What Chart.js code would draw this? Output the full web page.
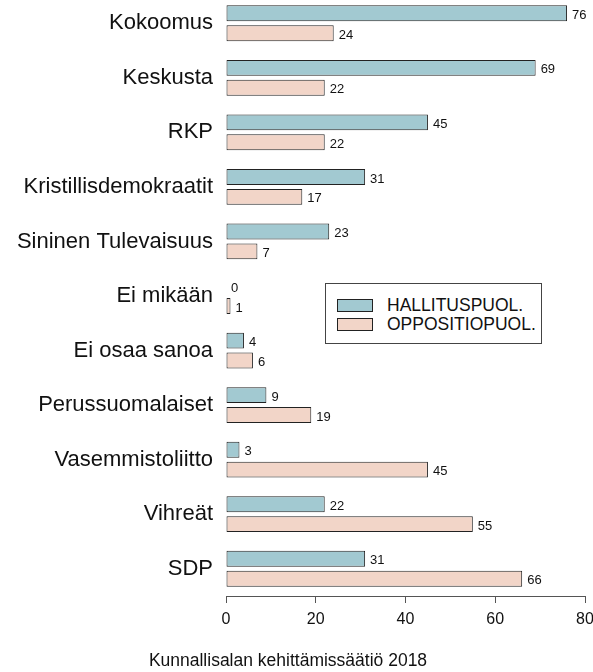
<!DOCTYPE html>
<html>
<head>
<meta charset="utf-8">
<script src="https://cdn.jsdelivr.net/npm/chart.js@4"></script>
<style>
  html, body { margin: 0; padding: 0; background: #fff; }
  body { width: 593px; height: 672px; position: relative; overflow: hidden; font-family: "Liberation Sans", Arial, sans-serif; }
  #wrap { position: absolute; left: 0; top: -4px; width: 593px; height: 676px; }
  #legend { position: absolute; left: 325px; top: 283px; width: 217px; height: 61px; border: 1px solid #444; box-sizing: border-box; background: #fff; padding: 12px 0 0 11px; }
  .item { display: flex; align-items: center; height: 19px; font-size: 17.5px; color: #111; }
  .swatch { width: 36px; height: 13px; border: 1px solid #222; box-sizing: border-box; margin-right: 14px; }
  #caption { position: absolute; left: 0; width: 576px; top: 650px; text-align: center; font-size: 17.5px; color: #111; }
</style>
</head>
<body>
<div id="wrap"><canvas id="chart" width="593" height="676"></canvas></div>
<div id="legend"></div>
<div id="caption">Kunnallisalan kehittämissäätiö 2018</div>
<script>
// kategoriat ja arvot (%)
const puolueet = ['Kokoomus', 'Keskusta', 'RKP', 'Kristillisdemokraatit', 'Sininen Tulevaisuus',
  'Ei mikään', 'Ei osaa sanoa', 'Perussuomalaiset', 'Vasemmistoliitto', 'Vihreät', 'SDP'];
const hallitus = [76, 69, 45, 31, 23, 0, 4, 9, 3, 22, 31];
const oppositio = [24, 22, 22, 17, 7, 1, 6, 19, 45, 55, 66];
const sarjat = ['HALLITUSPUOL.', 'OPPOSITIOPUOL.'];
const xTicks = [0, 20, 40, 60, 80];

const varit = ['#a2c9d1', '#f2d5c8'];

// arvot palkkien perään
const arvoLabelit = {
  id: 'arvoLabelit',
  afterDatasetsDraw(chart) {
    const ctx = chart.ctx;
    ctx.save();
    ctx.font = '13px "Liberation Sans", Arial, sans-serif';
    ctx.fillStyle = '#111';
    ctx.textAlign = 'left';
    ctx.textBaseline = 'middle';
    chart.data.datasets.forEach((ds, i) => {
      chart.getDatasetMeta(i).data.forEach((bar, j) => {
        ctx.fillText(String(ds.data[j]), bar.x + 5, bar.y + 2);
      });
    });
    ctx.restore();
  }
};

// ei automaattista reunatilaa akseleille
function nollaaPadding(scale) {
  scale.paddingTop = 0;
  scale.paddingBottom = 0;
  scale.paddingLeft = 0;
  scale.paddingRight = 0;
}

new Chart(document.getElementById('chart'), {
  type: 'bar',
  data: {
    labels: puolueet,
    datasets: [
      { label: sarjat[0], data: hallitus, backgroundColor: varit[0], borderColor: '#222', borderWidth: 1, borderSkipped: false },
      { label: sarjat[1], data: oppositio, backgroundColor: varit[1], borderColor: '#222', borderWidth: 1, borderSkipped: false }
    ]
  },
  options: {
    indexAxis: 'y',
    responsive: false,
    animation: false,
    categoryPercentage: 0.73,
    barPercentage: 0.8,
    layout: { padding: { left: 0, right: 8, top: 0, bottom: 0 } },
    plugins: { legend: { display: false }, tooltip: { enabled: false } },
    scales: {
      y: {
        grid: { display: false },
        border: { display: false },
        ticks: { font: { size: 22, family: '"Liberation Sans", Arial, sans-serif' }, color: '#111', padding: 5 },
        afterFit(scale) { scale.width = 226; nollaaPadding(scale); }
      },
      x: {
        min: 0,
        max: 80,
        afterBuildTicks(scale) { scale.ticks = xTicks.map(v => ({ value: v })); },
        grid: { display: true, drawOnChartArea: false, drawTicks: true, tickLength: 7, color: '#555' },
        border: { display: true, color: '#555', width: 1 },
        ticks: { font: { size: 16, family: '"Liberation Sans", Arial, sans-serif' }, color: '#111', padding: 7, maxRotation: 0 },
        afterFit(scale) { scale.height = 76; nollaaPadding(scale); }
      }
    }
  },
  plugins: [arvoLabelit]
});

// selite
const legend = document.getElementById('legend');
sarjat.forEach((s, i) => {
  const rivi = document.createElement('div');
  rivi.className = 'item';
  rivi.innerHTML = `<span class="swatch" style="background:${varit[i]}"></span>${s}`;
  legend.appendChild(rivi);
});
</script>
</body>
</html>
